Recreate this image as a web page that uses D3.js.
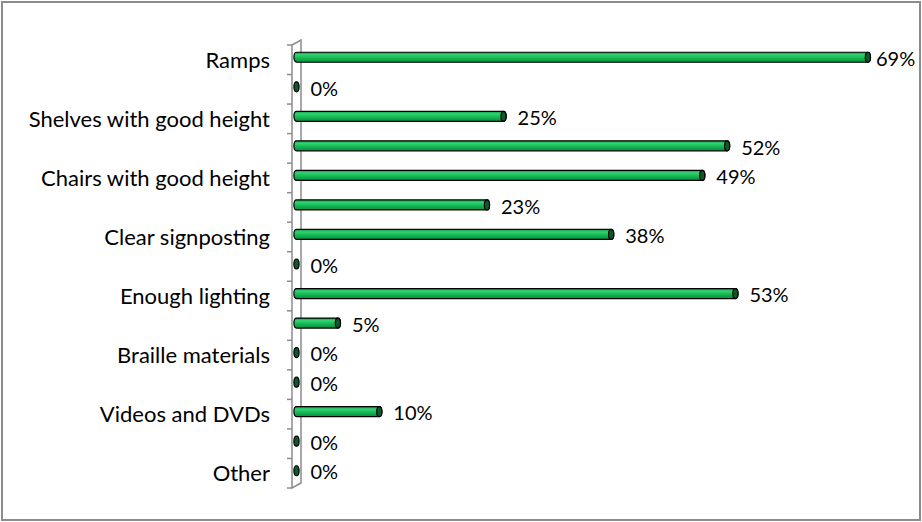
<!DOCTYPE html>
<html>
<head>
<meta charset="utf-8">
<script src="https://cdn.jsdelivr.net/npm/d3@7"></script>
<style>
  html, body { margin: 0; padding: 0; background: #fff; }
  svg { display: block; }
</style>
</head>
<body>
<svg id="chart" width="922" height="522"></svg>
<script>
// Facilities (share of respondents), top to bottom.
const tickLabels = [
  "Ramps", "", "Shelves with good height", "", "Chairs with good height", "",
  "Clear signposting", "", "Enough lighting", "", "Braille materials", "",
  "Videos and DVDs", "", "Other"
];
const values = [69, 0, 25, 52, 49, 23, 38, 0, 53, 5, 0, 0, 10, 0, 0];
const xDomain = [0, 80];

const W = 922, H = 522;
const svg = d3.select("#chart");

// Outer frame
svg.append("rect")
  .attr("x", 2).attr("y", 2).attr("width", W - 4).attr("height", H - 4)
  .attr("fill", "#fff").attr("stroke", "#8c8c8c").attr("stroke-width", 2);

// Gradient for the cylinder body
const defs = svg.append("defs");
const grad = defs.append("linearGradient").attr("id", "cyl")
  .attr("x1", 0).attr("y1", 0).attr("x2", 0).attr("y2", 1);
[["0%", "#0f9d45"], ["25%", "#35d272"], ["55%", "#14bb55"], ["100%", "#0a8a3c"]]
  .forEach(([o, c]) => grad.append("stop").attr("offset", o).attr("stop-color", c));

const frontX = 292, depthX = 9, depthY = -5;
const plotTop = 45, plotBottom = 488;
const idx = d3.range(values.length);

const y = d3.scaleBand().domain(idx).range([plotTop, plotBottom]).padding(0);
const x = d3.scaleLinear().domain(xDomain).range([296.5, 959]);

// Category axis (front edge) with ticks at band boundaries
const axisColor = "#8c8c8c";
const axis = svg.append("g").attr("stroke", axisColor).attr("stroke-width", 1.5).attr("fill", "none");
axis.append("path")
  .attr("d", `M${frontX},${plotTop} L${frontX},${plotBottom} L${frontX + depthX},${plotBottom + depthY} L${frontX + depthX},${plotTop + depthY} Z`);
const bounds = idx.map(i => y(i)).concat([plotBottom]);
axis.selectAll("line.tick").data(bounds).join("line")
  .attr("class", "tick")
  .attr("x1", frontX - 5).attr("x2", frontX)
  .attr("y1", d => d).attr("y2", d => d);

// Category labels
svg.append("g").selectAll("text").data(idx).join("text")
  .attr("x", 270)
  .attr("y", i => y(i) + y.bandwidth() / 2)
  .attr("dy", "0.36em")
  .attr("text-anchor", "end")
  .attr("font-family", "Lato, 'Open Sans', sans-serif")
  .attr("font-size", 22)
  .attr("fill", "#000")
  .text(i => tickLabels[i]);

// Cylinders
const ry = 5, rx = 2.6;
const cy = i => y(i) + y.bandwidth() / 2 + depthY / 2;
const bars = svg.append("g");
idx.forEach(i => {
  const v = values[i];
  const x0 = x(0), x1 = x(v), c = cy(i);
  if (v > 0) {
    bars.append("path")
      .attr("d", `M${x0},${c - ry} L${x1},${c - ry} A${rx},${ry} 0 0 1 ${x1},${c + ry} L${x0},${c + ry} A${rx},${ry} 0 0 1 ${x0},${c - ry} Z`)
      .attr("fill", "url(#cyl)").attr("stroke", "#000").attr("stroke-width", 1.2);
  }
  bars.append("ellipse")
    .attr("cx", x1).attr("cy", c).attr("rx", rx).attr("ry", ry)
    .attr("fill", "#0b5a2a").attr("stroke", "#000").attr("stroke-width", 1.2);
});

// Value labels
const labelFont = 20;
svg.append("g").selectAll("text").data(idx).join("text")
  .attr("x", i => Math.min(x(values[i]) + 14, W - 46))
  .attr("y", i => cy(i) + 1.5)
  .attr("dy", "0.36em")
  .attr("font-family", "Lato, 'Open Sans', sans-serif")
  .attr("font-size", labelFont)
  .attr("fill", "#000")
  .text(i => values[i] + "%");
</script>
</body>
</html>
